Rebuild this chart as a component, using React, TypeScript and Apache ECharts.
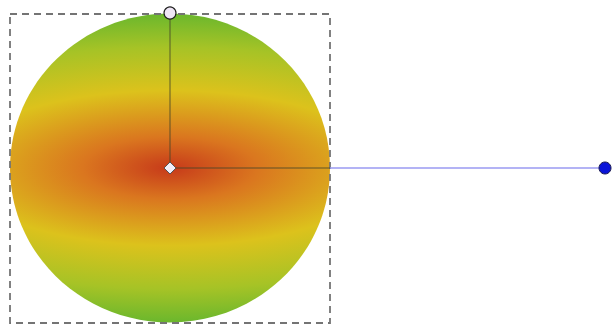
import React, { useEffect, useRef } from "react";
import * as echarts from "echarts";

// Gradient stops of the radial fill (offset / colour)
const stopOffsets = [0, 0.2, 0.5, 0.78, 1];
const stopColors = ["#c73a1a", "#da761f", "#dcc21c", "#a6c326", "#6ab72d"];

// Shape and gradient geometry (pixels)
const shapeBox = [10, 14, 320, 309]; // x, y, w, h of the dashed bounding box
const gradientCenter = [170, 168];
const gradientRadiusX = 435;
const gradientRadiusY = 155;

export default function App() {
  const ref = useRef<HTMLDivElement>(null);
  useEffect(() => {
    if (!ref.current) return;
    const chart = echarts.init(ref.current, undefined, { renderer: "svg" });
    const [bx, by, bw, bh] = shapeBox;
    const [cx, cy] = gradientCenter;
    const s = gradientRadiusX / gradientRadiusY;
    const colorStops = stopOffsets.map((o, i) => ({ offset: o, color: stopColors[i] }));
    const rightEdge = bx + bw;
    const handleEnd = cx + gradientRadiusX;
    chart.setOption({
      animation: false,
      graphic: {
        elements: [
          {
            type: "ellipse",
            x: cx,
            y: cy,
            scaleX: s,
            scaleY: 1,
            shape: { cx: 0, cy: 0, rx: bw / 2 / s, ry: bh / 2 },
            style: {
              fill: {
                type: "radial",
                x: 0,
                y: 0,
                r: gradientRadiusY,
                global: true,
                colorStops,
              },
            },
          },
          {
            type: "rect",
            shape: { x: bx, y: by, width: bw, height: bh },
            style: { fill: "none", stroke: "#747474", lineWidth: 1.8, lineDash: [7, 5] },
          },
          {
            type: "line",
            shape: { x1: rightEdge, y1: cy, x2: handleEnd, y2: cy },
            style: { stroke: "#9a9af2", lineWidth: 1.5 },
          },
          {
            type: "line",
            shape: { x1: cx, y1: cy, x2: rightEdge, y2: cy },
            style: { stroke: "rgba(70,70,40,0.55)", lineWidth: 1.5 },
          },
          {
            type: "line",
            shape: { x1: cx, y1: cy, x2: cx, y2: cy - gradientRadiusY },
            style: { stroke: "rgba(70,70,40,0.55)", lineWidth: 1.5 },
          },
          {
            type: "circle",
            shape: { cx: cx, cy: cy - gradientRadiusY, r: 6 },
            style: { fill: "#efe6f6", stroke: "#222", lineWidth: 1.2 },
          },
          {
            type: "polygon",
            shape: {
              points: [
                [cx, cy - 6],
                [cx + 6, cy],
                [cx, cy + 6],
                [cx - 6, cy],
              ],
            },
            style: { fill: "#f2eefa", stroke: "#555", lineWidth: 1 },
          },
          {
            type: "circle",
            shape: { cx: handleEnd, cy: cy, r: 6 },
            style: { fill: "#0a14d8", stroke: "#1a1a50", lineWidth: 1 },
          },
        ],
      },
    });
    return () => chart.dispose();
  }, []);
  return (
    <div
      ref={ref}
      style={{ position: "fixed", left: 0, top: 0, width: 614, height: 327, background: "#fff" }}
    />
  );
}
